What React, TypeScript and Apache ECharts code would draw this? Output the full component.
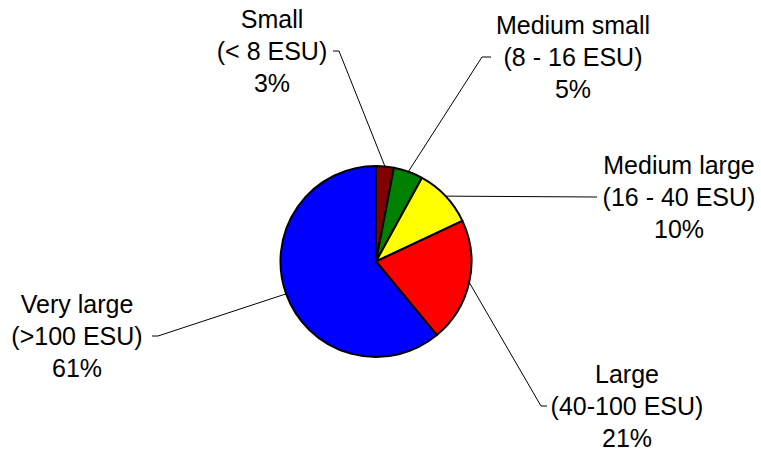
import React, { useEffect, useRef } from 'react';
import * as echarts from 'echarts';

// Farm size classes (economic size units) and their share of holdings
const categories = ['Small', 'Medium small', 'Medium large', 'Large', 'Very large'];
const classRanges = ['(< 8 ESU)', '(8 - 16 ESU)', '(16 - 40 ESU)', '(40-100 ESU)', '(>100 ESU)'];
const shares = [3, 5, 10, 21, 61];
const sliceColors = ['#800000', '#008000', '#ffff00', '#ff0000', '#0000ff'];

// Centre of each label block (px) and the leader line's elbow / end points
const labelCenters = [[272, 51], [573, 57], [679, 197], [627, 406], [77, 336]];
const leaderElbows = [[339, 51], [482, 57], [597, 197], [541, 406], [158, 336]];
const leaderEnds = [[333, 51], [491, 57], [597, 197], [547, 406], [152, 336]];

export default function App() {
  const ref = useRef<HTMLDivElement>(null);

  useEffect(() => {
    if (!ref.current) return;
    const chart = echarts.init(ref.current, undefined, { renderer: 'svg' });
    const data = categories.map((name, i) => ({
      name,
      value: shares[i],
      range: classRanges[i],
      itemStyle: { color: sliceColors[i] },
    }));
    chart.setOption({
      animation: false,
      backgroundColor: '#ffffff',
      series: [
        {
          type: 'pie',
          center: [376, 261.5],
          radius: [0, 95.5],
          startAngle: 90,
          clockwise: true,
          data,
          itemStyle: { borderColor: '#000000', borderWidth: 2 },
          emphasis: { disabled: true },
          label: {
            show: true,
            position: 'outside',
            color: '#000000',
            fontFamily: 'Liberation Sans, Arial, sans-serif',
            fontSize: 25,
            lineHeight: 32,
            align: 'center',
            formatter: (p: any) => `${p.name}\n${p.data.range}\n${p.value}%`,
          },
          labelLine: {
            show: true,
            lineStyle: { color: '#000000', width: 1 },
          },
          labelLayout: (params: any) => {
            const i = params.dataIndex;
            const start = params.labelLinePoints ? params.labelLinePoints[0] : leaderElbows[i];
            return {
              x: labelCenters[i][0],
              y: labelCenters[i][1],
              align: 'center',
              verticalAlign: 'middle',
              labelLinePoints: [start, leaderElbows[i], leaderEnds[i]],
            };
          },
        },
      ],
    });
    return () => chart.dispose();
  }, []);

  return (
    <div
      ref={ref}
      style={{ position: 'fixed', left: 0, top: 0, width: 761, height: 452, background: '#fff' }}
    />
  );
}
